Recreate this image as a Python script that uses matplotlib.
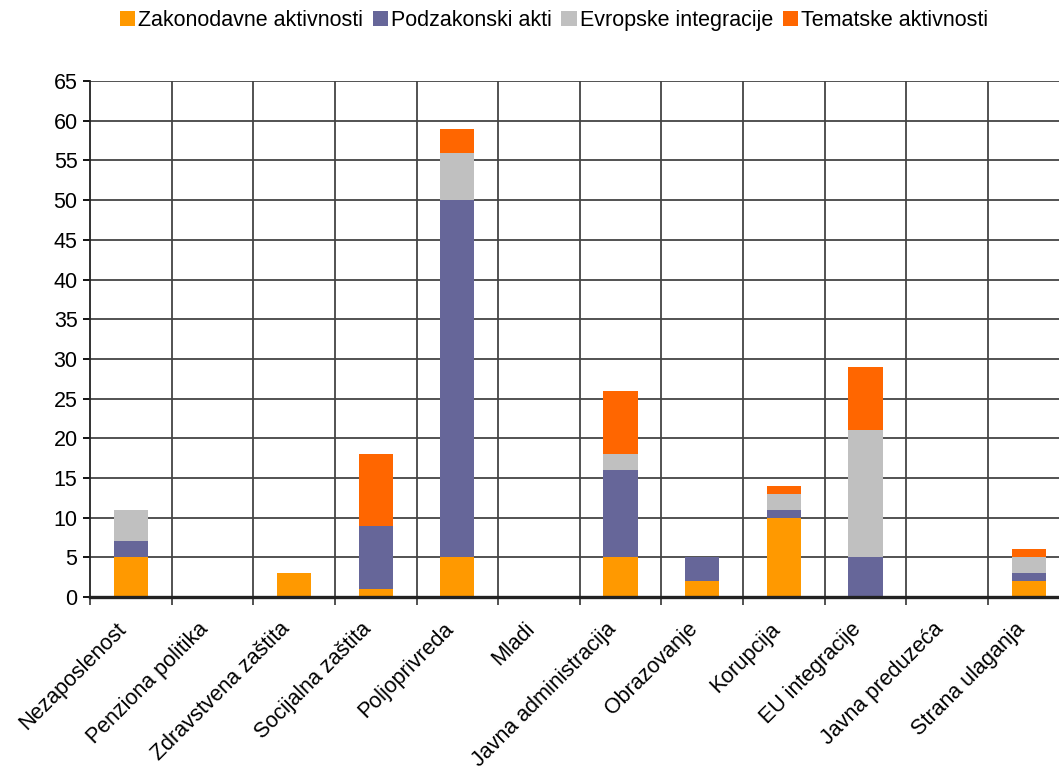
import matplotlib
matplotlib.use("Agg")
import matplotlib.pyplot as plt
import numpy as np

plt.rcParams['font.family'] = ['Liberation Sans', 'DejaVu Sans']

categories = ["Nezaposlenost", "Penziona politika", "Zdravstvena zaštita", "Socijalna zaštita",
              "Poljoprivreda", "Mladi", "Javna administracija", "Obrazovanje", "Korupcija",
              "EU integracije", "Javna preduzeća", "Strana ulaganja"]
zakonodavne = [5, 0, 3, 1, 5, 0, 5, 2, 10, 0, 0, 2]
podzakonski = [2, 0, 0, 8, 45, 0, 11, 3, 1, 5, 0, 1]
evropske = [4, 0, 0, 0, 6, 0, 2, 0, 2, 16, 0, 2]
tematske = [0, 0, 0, 9, 3, 0, 8, 0, 1, 8, 0, 1]
series_names = ["Zakonodavne aktivnosti", "Podzakonski akti", "Evropske integracije", "Tematske aktivnosti"]
colors = ["#FF9900", "#666699", "#C0C0C0", "#FF6600"]

fig = plt.figure(figsize=(10.59, 7.70), dpi=100)
ax = fig.add_axes([0.085, 0.2247, 0.925, 0.670])

x = np.arange(len(categories))
bottom = np.zeros(len(categories))
handles = []
for vals, name, c in zip([zakonodavne, podzakonski, evropske, tematske], series_names, colors):
    b = ax.bar(x, vals, width=0.42, bottom=bottom, color=c, label=name, zorder=3, linewidth=0)
    handles.append(b)
    bottom += np.array(vals)

ax.set_xlim(-0.5, len(categories) - 0.5)
ax.set_ylim(0, 65)
ax.set_yticks(range(0, 66, 5))
ax.yaxis.grid(True, color='#444444', linewidth=1.3, zorder=0)
for b in np.arange(0.5, len(categories) - 0.5, 1):
    ax.axvline(b, color='#444444', linewidth=1.3, zorder=0)

ax.set_xticks(np.arange(-0.5, len(categories) - 0.4, 1), minor=False)
ax.set_xticklabels([])
ax.tick_params(axis='x', length=6, width=1.3, color='#444444')
ax.tick_params(axis='y', length=5, width=1.3, labelsize=15.5, pad=4)

for xi, lab in zip(x, categories):
    ax.text(xi - 0.18, -2.7, lab, rotation=45, rotation_mode='anchor', ha='right', va='top',
            fontsize=15.5, transform=ax.transData)

for s in ['top', 'right']:
    ax.spines[s].set_visible(False)
ax.spines['bottom'].set_linewidth(2.4)
ax.spines['bottom'].set_color('#222222')
ax.spines['left'].set_linewidth(1.3)
ax.spines['left'].set_color('#222222')
ax.spines['bottom'].set_zorder(4)

fig.legend(handles=handles, labels=series_names, loc='center', bbox_to_anchor=(0.523, 0.973),
           ncol=4, frameon=False, fontsize=15.5, handlelength=0.7, handleheight=0.7,
           handletextpad=0.15, columnspacing=0.45)

fig.savefig("out.png", dpi=100)
